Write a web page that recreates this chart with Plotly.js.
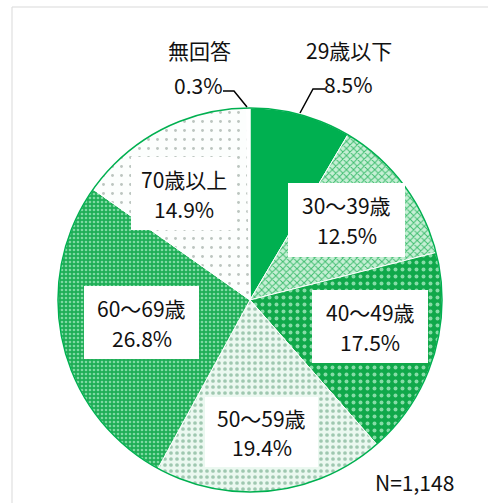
<!DOCTYPE html>
<html><head><meta charset="utf-8">
<script src="https://cdn.plot.ly/plotly-3.0.1.min.js"></script>
<style>html,body{margin:0;padding:0;background:#fff;}#chart{width:488px;height:503px;}</style>
</head><body><div id="chart"></div>
<script>
// Data
var categories = ["29歳以下", "30～39歳", "40～49歳", "50～59歳", "60～69歳", "70歳以上", "無回答"];
var shares = [8.5, 12.5, 17.5, 19.4, 26.8, 14.9, 0.3];
var sampleNote = "N=1,148";

// Styles
var W = 488, H = 503;
var cx = 250, cy = 300, R = 192;
var FONT = "'Noto Sans CJK JP', 'Noto Sans', sans-serif";
var FS = 21;
var fills = ["#00B050", "#c6efd5", "#10a84a", "#e9f8ef", "#1eae56", "#fcfefd", "#ffffff"];
var patterns = [
  {shape: ""},
  {shape: "x", fgcolor: "#3fbd6f", bgcolor: "#c6efd5", size: 5, solidity: 0.35},
  {shape: ".", fgcolor: "#86dca7", bgcolor: "#10a84a", size: 7, solidity: 0.25},
  {shape: ".", fgcolor: "#9fc8b0", bgcolor: "#ebf8f0", size: 6, solidity: 0.3},
  {shape: ".", fgcolor: "#7ed9a3", bgcolor: "#1eae56", size: 4, solidity: 0.35},
  {shape: ".", fgcolor: "#bcc5c0", bgcolor: "#fcfefd", size: 9, solidity: 0.08},
  {shape: ""}
];
// white label boxes (pixel extents [x0, y0, x1, y1]) for inside labels, by category index
var boxes = {1: [288, 183, 405, 257], 2: [312, 290, 428, 363], 3: [205, 397, 318, 467],
             4: [84, 286, 199, 359], 5: [131, 157, 237, 230]};

function px(x) { return x / W; }
function py(y) { return 1 - y / H; }

var trace = {
  type: "pie",
  labels: categories,
  values: shares,
  sort: false,
  direction: "clockwise",
  rotation: 0,
  textinfo: "none",
  hoverinfo: "label+value",
  showlegend: false,
  domain: {x: [px(cx - R), px(cx + R)], y: [py(cy + R), py(cy - R)]},
  marker: {
    colors: fills,
    pattern: {
      shape: patterns.map(function(p){return p.shape;}),
      fgcolor: patterns.map(function(p){return p.fgcolor || "#000";}),
      bgcolor: patterns.map(function(p, i){return p.bgcolor || fills[i];}),
      size: patterns.map(function(p){return p.size || 8;}),
      solidity: patterns.map(function(p){return p.solidity || 0.3;})
    },
    line: {color: "#ffffff", width: 1}
  }
};

var annotations = [];
function label(text, x, y) {
  annotations.push({xref: "paper", yref: "paper", x: px(x), y: py(y), xanchor: "center", yanchor: "middle",
    text: text, showarrow: false, font: {family: FONT, size: FS, color: "#111111"}});
}
var shapes = [
  {type: "rect", xref: "paper", yref: "paper", x0: px(12), y0: py(515), x1: px(500), y1: py(7),
   line: {color: "#d9d9d9", width: 1}, layer: "below"},
  {type: "circle", xref: "paper", yref: "paper", x0: px(cx - R), x1: px(cx + R), y0: py(cy + R), y1: py(cy - R),
   line: {color: "#00B050", width: 1.5}, layer: "above"}
];
Object.keys(boxes).forEach(function(k) {
  var i = +k, b = boxes[i];
  shapes.push({type: "rect", xref: "paper", yref: "paper", x0: px(b[0]), x1: px(b[2]), y0: py(b[3]), y1: py(b[1]),
    fillcolor: "#ffffff", line: {width: 0}, layer: "above"});
  var mx = (b[0] + b[2]) / 2, my = (b[1] + b[3]) / 2;
  label(categories[i], mx, my - 14.5);
  label(shares[i].toFixed(1) + "%", mx, my + 15);
});
label(categories[6], 199, 50);
label(shares[6].toFixed(1) + "%", 198, 85);
label(categories[0], 349, 50);
label(shares[0].toFixed(1) + "%", 348, 84);
label(sampleNote, 414, 482);

function path(pts) {
  return pts.map(function(p, j){ return (j ? "L" : "M") + px(p[0]) + "," + py(p[1]); }).join(" ");
}
shapes.push({type: "path", xref: "paper", yref: "paper", path: path([[223, 91], [234, 91], [247, 107]]),
   line: {color: "#000000", width: 1.5}});
shapes.push({type: "path", xref: "paper", yref: "paper", path: path([[300, 113], [313, 89], [325, 89]]),
   line: {color: "#000000", width: 1.5}});

var layout = {
  width: W, height: H,
  margin: {l: 0, r: 0, t: 0, b: 0},
  paper_bgcolor: "#ffffff",
  annotations: annotations,
  shapes: shapes
};
Plotly.newPlot("chart", [trace], layout, {staticPlot: true, displayModeBar: false});
</script></body></html>
